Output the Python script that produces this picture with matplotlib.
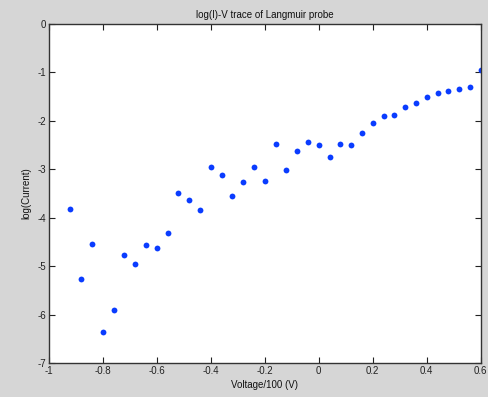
import matplotlib
matplotlib.use("Agg")
import matplotlib.pyplot as plt
from matplotlib.ticker import FixedLocator, FixedFormatter

voltage = [-0.92, -0.88, -0.84, -0.80, -0.76, -0.72, -0.68, -0.64, -0.60, -0.56,
           -0.52, -0.48, -0.44, -0.40, -0.36, -0.32, -0.28, -0.24, -0.20, -0.16,
           -0.12, -0.08, -0.04, 0.00, 0.04, 0.08, 0.12, 0.16, 0.20, 0.24,
           0.28, 0.32, 0.36, 0.40, 0.44, 0.48, 0.52, 0.56, 0.60]
log_current = [-3.82, -5.27, -4.55, -6.36, -5.91, -4.76, -4.96, -4.57, -4.63, -4.32,
               -3.49, -3.63, -3.84, -2.95, -3.12, -3.55, -3.26, -2.95, -3.24, -2.47,
               -3.02, -2.63, -2.44, -2.49, -2.75, -2.47, -2.49, -2.26, -2.05, -1.89,
               -1.87, -1.72, -1.64, -1.51, -1.43, -1.39, -1.35, -1.31, -0.94]

xticks = [-1, -0.8, -0.6, -0.4, -0.2, 0, 0.2, 0.4, 0.6]
xticklabels = ["-1", "-0.8", "-0.6", "-0.4", "-0.2", "0", "0.2", "0.4", "0.6"]
yticks = [0, -1, -2, -3, -4, -5, -6, -7]
yticklabels = ["0", "-1", "-2", "-3", "-4", "-5", "-6", "-7"]

plt.rcParams['font.family'] = ['Liberation Sans', 'DejaVu Sans']

fig = plt.figure(figsize=(4.89, 3.97), dpi=100, facecolor='#d6d6d6')
ax = fig.add_axes([0.100, 0.0856, 0.883, 0.854])
ax.set_facecolor('white')
ax.plot(voltage, log_current, linestyle='none', marker='o', markersize=4.2,
        color='#0a3cff', markeredgewidth=0)
ax.set_xlim(-1, 0.6)
ax.set_ylim(-7, 0)
ax.xaxis.set_major_locator(FixedLocator(xticks))
ax.xaxis.set_major_formatter(FixedFormatter(xticklabels))
ax.yaxis.set_major_locator(FixedLocator(yticks))
ax.yaxis.set_major_formatter(FixedFormatter(yticklabels))
ax.tick_params(direction='in', top=True, right=True, length=4, width=0.8,
               labelsize=7, pad=2, colors='#222222')
for s in ax.spines.values():
    s.set_color('#333333')
    s.set_linewidth(1.0)
ax.set_title('log(I)-V trace of Langmuir probe', fontsize=7, pad=4, color='#111111')
ax.set_xlabel('Voltage/100 (V)', fontsize=7, labelpad=3, color='#111111')
ax.set_ylabel('log(Current)', fontsize=7, labelpad=4, color='#111111')
fig.savefig('out.png', dpi=100, facecolor=fig.get_facecolor())
